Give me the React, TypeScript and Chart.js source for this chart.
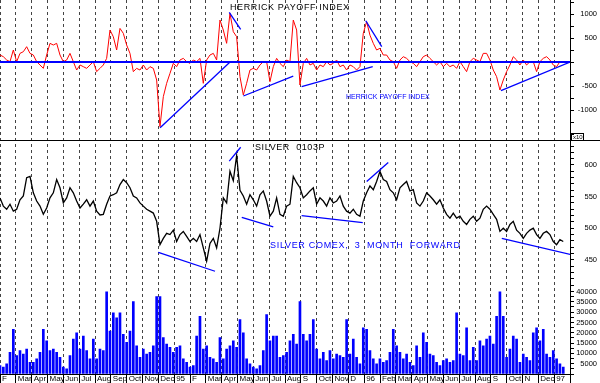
import React, { useEffect, useRef } from 'react';
import { Chart, registerables } from 'chart.js';

Chart.register(...registerables);

// Month tick labels, month 0 = Feb 1994
const MONTH_LABELS = [
  'F', 'Mar', 'Apr', 'May', 'Jun', 'Jul', 'Aug', 'Sep', 'Oct', 'Nov', 'Dec', '95',
  'F', 'Mar', 'Apr', 'May', 'Jun', 'Jul', 'Aug', 'S', 'Oct', 'Nov', 'D', '96',
  'Feb', 'Mar', 'Apr', 'May', 'Jun', 'Jul', 'Aug', 'S', 'Oct', 'N', 'Dec', '97',
];

// sampling of the series (in months since Feb 1994), roughly weekly
const SAMPLE_START = 0;
const SAMPLE_STEP = 0.2105;

// Herrick Payoff Index
const HPI = [
  146, 111, 42, 7, 250, 7, 180, 215, 319, 180,
  146, 7, -62, -132, 146, 389, 354, 389, 146, 7,
  42, 180, 7, -167, -62, -97, -132, -62, 7, -201,
  -132, -62, 76, 666, 527, 250, 700, 597, 354, 180,
  -201, -132, -167, -62, -167, -97, -132, -375, -1346, -722,
  -444, -236, -28, -97, 42, 76, 7, -28, 42, 7,
  76, -444, 42, 146, 180, 42, 874, 666, 389, 1013,
  631, 527, -305, -687, -444, -167, -132, -167, -62, 7,
  7, -410, -97, 76, -28, -97, 42, 7, 874, 666,
  -479,
  -28, 76, -62, -28, -167, -62, -97, 7, -62, -28,
  42, -97, -62, -167, -62, -97, -167, -97, 600, 840,
  560, 389, 250, 285, 146, 146, 42, 7, -132, 42,
  111, 76, 7, -28, -97, 7, 111, 146, 76, 7,
  -62, 7, -97, -28, -97, -62, -132, 7, -97, -201,
  7, 76, 42, 7, 180, 180, 42, -167, -305, -583,
  -375, -201, -62, 111, 42, -62, 42, -62, 7, 7,
  -201, 7, 76, 111, 42, -62, -97, 7, 7,
];

// Silver Comex 3 month forward
const PRICE = [
  548, 535, 530, 538, 527, 530, 545, 551, 580, 582,
  556, 543, 535, 522, 532, 548, 556, 577, 564, 540,
  548, 564, 556, 543, 532, 538, 545, 535, 543, 527,
  521, 522, 538, 551, 553, 556, 569, 577, 572, 564,
  551, 548, 540, 535, 530, 527, 524, 511, 474, 484,
  492, 490, 497, 479, 490, 495, 487, 479, 484, 479,
  490, 469, 448, 476, 484, 469, 500, 548, 540, 590,
  575, 615, 560, 551, 538, 553, 545, 535, 553, 559,
  543, 519, 527, 548, 522, 519, 535, 538, 582, 572,
  564,
  548, 553, 559, 564, 538, 548, 543, 535, 548, 540,
  543, 551, 535, 527, 524, 530, 522, 519, 543, 556,
  567, 561, 574, 590, 577, 574, 561, 556, 545, 564,
  569, 574, 559, 561, 540, 535, 543, 556, 551, 545,
  538, 545, 532, 522, 516, 524, 516, 519, 511, 506,
  514, 519, 511, 516, 530, 535, 530, 522, 514, 495,
  500, 495, 506, 511, 497, 492, 484, 492, 497, 500,
  490, 484, 492, 495, 490, 479, 474, 482, 479,
];

// Volume
const VOLUME = [
  4100, 3300, 4900, 10500, 21600, 8900, 11300, 9700, 12100, 5700,
  5700, 7300, 10500, 21600, 16100, 11300, 12100, 10500, 8100, 3300,
  2500, 8900, 16900, 20000, 12100, 18400, 11300, 7300, 16900, 7300,
  12100, 11300, 41500, 20800, 29600, 27200, 29600, 19200, 15300, 20800,
  35100, 13700, 8100, 12100, 9700, 10500, 13700, 37500, 37500, 17600,
  14500, 12900, 10500, 12900, 13700, 7300, 5700, 3300, 4100, 18400,
  28000, 12100, 13700, 8100, 7300, 5700, 17600, 7300, 12100, 13700,
  16100, 12900, 26400, 20000, 7300, 4900, 3300, 2500, 4100, 11300,
  28800, 16100, 18400, 18400, 8100, 8900, 10500, 16100, 19200, 14500,
  35100,
  19200, 16100, 19200, 26400, 12100, 7300, 10500, 6500, 11300, 7300,
  9700, 8900, 8100, 26400, 9700, 16900, 8100, 4900, 22400, 21600,
  11300, 7300, 4900, 7300, 5700, 6500, 10500, 21600, 13700, 10500,
  7300, 9700, 5700, 4100, 13700, 8100, 20000, 15300, 9700, 8900,
  5700, 4100, 6500, 7300, 5700, 6500, 29600, 9700, 8900, 22400,
  6500, 12900, 6500, 16100, 13700, 16900, 18400, 14500, 28000, 40700,
  28000, 8100, 12100, 18400, 16900, 5700, 9700, 8100, 6500, 20000,
  22400, 16100, 21600, 9700, 8100, 11300, 7300, 4900, 3300,
];

// Trend lines [monthStart, valueStart, monthEnd, valueEnd]
const HPI_TRENDS = [
  [10.11, -1369, 14.53, 0],
  [14.48, 1035, 15.2, 681],
  [15.37, -708, 18.52, -292],
  [19.05, -515, 23.54, -98],
  [23.1, 860, 24.11, 319],
  [31.64, -598, 36.0, 0],
];
const PRICE_TRENDS = [
  [10.0, 462, 13.58, 432],
  [14.48, 606, 15.2, 628],
  [15.27, 517, 17.26, 502],
  [19.05, 520, 22.91, 509],
  [23.16, 574, 24.52, 604],
  [31.69, 484, 36.11, 458],
];

// Right-axis labelled values
const HPI_LABELS = [1000, 500, -500, -1000];
const PRICE_LABELS = [600, 550, 500, 450];
const VOLUME_LABELS = [40000, 35000, 30000, 25000, 20000, 15000, 10000, 5000];

const FONT = 'Liberation Sans, Arial, sans-serif';

const overlay = {
  id: 'overlay',
  afterDraw(chart: any) {
    const c = chart.ctx as CanvasRenderingContext2D;
    const hpi = chart.scales.yHpi;
    const x = chart.scales.x;
    c.save();
    c.strokeStyle = '#000';
    c.lineWidth = 1;
    const sepY = Math.round(hpi.bottom) + 0.5;
    c.beginPath();
    c.moveTo(0, sepY);
    c.lineTo(chart.width, sepY);
    c.stroke();
    const ax = Math.round(chart.chartArea.right) + 0.5;
    c.beginPath();
    c.moveTo(ax, x.top);
    c.lineTo(ax, chart.height);
    c.stroke();
    // x10 box
    c.strokeRect(ax + 1, sepY - 7, 12, 7);
    c.font = `6px ${FONT}`;
    c.fillStyle = '#000';
    c.textBaseline = 'alphabetic';
    c.fillText('x10', ax + 2.5, sepY - 1.5);

    const txt = (s: string, px: number, py: number, size: number, color: string, ls: string) => {
      c.font = `${size}px ${FONT}`;
      c.fillStyle = color;
      (c as any).letterSpacing = ls;
      c.fillText(s, px, py);
    };
    txt('HERRICK PAYOFF INDEX', 230, 10, 9, '#000', '0.6px');
    txt('SILVER  0103P', 255, 150, 9, '#000', '0.6px');
    txt('SILVER COMEX,  3  MONTH  FORWARD', 270, 248, 9, '#0000ff', '0.7px');
    txt('HERRICK PAYOFF INDEX', 346, 99, 7, '#0000ff', '0px');
    c.restore();
  },
};

export default function App() {
  const ref = useRef<HTMLCanvasElement>(null);
  useEffect(() => {
    document.body.style.margin = '0';
    const canvas = ref.current!;
    const pts = (arr: number[]) => arr.map((v, i) => ({ x: SAMPLE_START + i * SAMPLE_STEP, y: v }));
    const trend = (t: number[], axis: string) => ({
      type: 'line' as const,
      data: [{ x: t[0], y: t[1] }, { x: t[2], y: t[3] }],
      borderColor: '#0000ff',
      borderWidth: 1.3,
      pointRadius: 0,
      yAxisID: axis,
      order: 1,
    });
    const datasets: any[] = [
      {
        type: 'line',
        data: [{ x: 0, y: 0 }, { x: 36, y: 0 }],
        borderColor: '#0000ff',
        borderWidth: 2,
        pointRadius: 0,
        yAxisID: 'yHpi',
        order: 0,
      },
      ...HPI_TRENDS.map((t) => trend(t, 'yHpi')),
      ...PRICE_TRENDS.map((t) => trend(t, 'yPrice')),
      {
        type: 'line',
        data: pts(HPI),
        borderColor: '#ff0000',
        borderWidth: 1,
        pointRadius: 0,
        tension: 0,
        yAxisID: 'yHpi',
        order: 2,
      },
      {
        type: 'line',
        data: pts(PRICE),
        borderColor: '#000000',
        borderWidth: 1.3,
        pointRadius: 0,
        tension: 0,
        yAxisID: 'yPrice',
        order: 2,
      },
      {
        type: 'bar',
        data: pts(VOLUME),
        backgroundColor: '#0000ff',
        borderWidth: 0,
        barThickness: 2,
        yAxisID: 'yVol',
        order: 3,
      },
    ];
    const yAxis = (min: number, max: number, step: number, labels: number[], weight: number) => ({
      type: 'linear' as const,
      position: 'right' as const,
      stack: 'panes',
      stackWeight: weight,
      min,
      max,
      afterFit: (s: any) => {
        s.width = 27;
        s.paddingTop = 0;
        s.paddingBottom = 0;
        s.paddingLeft = 0;
        s.paddingRight = 0;
      },
      border: { display: true, color: '#000', width: 1 },
      grid: { drawOnChartArea: false, drawTicks: true, tickLength: 4, tickColor: '#000', tickWidth: 1 },
      ticks: {
        stepSize: step,
        maxTicksLimit: 1000,
        includeBounds: false,
        autoSkip: false,
        crossAlign: 'far' as const,
        padding: 0,
        color: '#000',
        font: { family: FONT, size: 7.5 },
        callback: (v: any) => (labels.includes(Math.round(v)) ? String(Math.round(v)) : ''),
      },
    });
    const chart = new Chart(canvas, {
      type: 'line',
      data: { datasets },
      plugins: [overlay],
      options: {
        responsive: false,
        animation: false,
        devicePixelRatio: 1,
        layout: { padding: { left: 0, right: 3, top: 0, bottom: 0 } },
        plugins: { legend: { display: false }, tooltip: { enabled: false } },
        elements: { point: { radius: 0 } },
        scales: {
          x: {
            type: 'linear',
            position: 'bottom',
            min: 0,
            max: 36,
            offset: false,
            afterFit: (s: any) => {
              s.height = 9;
              s.paddingLeft = 0;
              s.paddingRight = 0;
              s.paddingTop = 0;
              s.paddingBottom = 0;
            },
            border: { display: true, color: '#000', width: 1, dash: [3, 3] },
            grid: {
              offset: false,
              drawOnChartArea: true,
              color: '#444',
              lineWidth: 1,
              drawTicks: true,
              tickLength: 9,
              tickColor: '#000',
              tickWidth: 1,
              tickBorderDash: [],
            },
            ticks: {
              stepSize: 1,
              maxTicksLimit: 1000,
              includeBounds: false,
              autoSkip: false,
              maxRotation: 0,
              minRotation: 0,
              align: 'start',
              labelOffset: 2,
              padding: -9,
              color: '#000',
              font: { family: FONT, size: 8 },
              callback: (v: any) => MONTH_LABELS[v] ?? '',
            },
          },
          yHpi: yAxis(-1625, 1292, 250, HPI_LABELS, 140),
          yPrice: yAxis(400, 639.5, 10, PRICE_LABELS, 151.5),
          yVol: yAxis(0, 40000, 2500, VOLUME_LABELS, 82.5),
        } as any,
      },
    });
    return () => chart.destroy();
  }, []);
  return <canvas ref={ref} width={600} height={383} style={{ display: 'block' }} />;
}
